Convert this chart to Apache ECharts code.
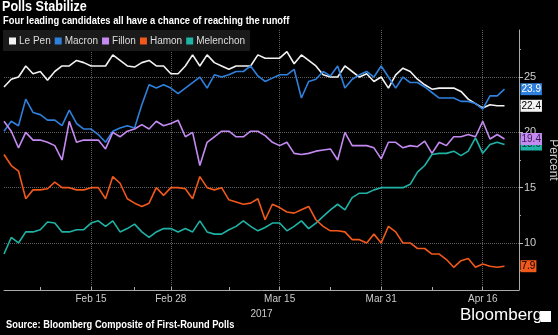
<!DOCTYPE html>
<html>
<head>
<meta charset="utf-8">
<script src="https://cdn.jsdelivr.net/npm/echarts@6/dist/echarts.min.js"></script>
<style>
html,body{margin:0;padding:0;background:#000;}
#chart{width:558px;height:335px;}
</style>
</head>
<body>
<div id="chart"></div>
<script>
// ---- data (70 poll points; 2 empty slots pad the axis end) ----
const nCategories = 72;
const tickLabels = {12:'Feb 15', 23:'Feb 28', 38:'Mar 15', 52:'Mar 31', 66:'Apr 16'};
const minorTicks = [5, 18, 31, 45, 59];
const yLabelValues = [10, 15, 20, 25];
const names = ['Le Pen', 'Macron', 'Fillon', 'Hamon', 'Melenchon'];
const lePen = [24.1,24.8,25.0,26.0,25.3,25.5,24.7,25.5,26.0,26.0,26.5,26.3,26.0,26.0,26.0,27.0,26.5,26.0,25.9,26.3,
  26.5,26.0,26.0,25.3,25.3,26.0,27.0,26.0,27.0,26.3,26.0,25.7,26.0,26.0,26.0,27.0,26.7,26.7,26.7,27.3,
  26.2,27.0,26.5,26.0,25.2,25.0,25.0,26.0,25.5,25.0,25.3,24.6,25.0,24.0,25.2,25.8,25.5,24.8,24.3,23.9,
  24.0,24.0,24.0,23.7,23.0,22.6,22.2,22.5,22.4,22.4];
const macron = [20.1,21.0,20.6,23.0,21.8,21.6,21.1,21.1,20.6,22.0,20.8,20.3,20.3,19.8,19.1,20.1,20.4,20.6,20.4,22.5,
  24.3,24.0,24.3,24.0,23.5,24.0,24.5,25.0,24.0,25.2,25.0,25.2,25.5,25.5,26.0,25.1,24.6,24.9,25.2,25.2,
  25.7,23.1,24.6,24.8,25.5,25.1,26.0,24.0,24.8,25.2,25.5,25.0,26.0,25.0,24.0,25.0,24.5,24.5,24.1,23.6,
  23.1,23.1,23.1,22.8,22.8,22.6,22.1,23.3,23.3,23.9];
const fillon = [21.0,20.1,18.6,20.0,19.3,19.3,19.1,18.8,17.5,21.0,19.1,19.3,19.3,19.3,18.5,20.0,19.6,20.1,20.3,20.7,
  20.3,21.0,20.6,20.8,21.1,19.6,20.0,17.0,19.1,19.6,20.1,20.1,19.6,19.6,20.1,20.1,19.7,19.1,18.8,19.1,
  18.1,18.0,18.1,18.3,18.4,18.5,17.5,20.0,18.8,18.8,18.8,18.6,17.6,19.1,19.1,18.6,18.8,18.7,19.2,18.1,
  19.1,18.8,19.6,19.6,19.8,19.6,21.0,19.4,19.8,19.4];
const hamon = [18.0,17.0,16.5,14.0,14.8,14.8,14.9,15.5,15.0,15.0,14.8,14.8,15.0,15.0,14.0,16.0,15.4,14.0,13.6,13.3,
  13.6,15.0,14.3,15.0,15.0,14.9,14.0,16.0,15.0,14.8,15.0,13.9,13.7,13.5,13.6,14.0,12.1,13.5,13.2,12.8,
  12.7,13.0,13.3,12.1,11.5,11.1,11.1,11.0,10.3,10.3,10.0,10.8,10.0,11.5,11.0,10.0,10.0,9.5,9.5,9.0,
  9.0,8.5,7.8,8.4,8.6,7.8,8.1,7.9,7.8,7.9];
const melenchon = [9.0,10.5,10.0,11.0,11.0,11.2,11.9,11.8,11.0,11.0,11.2,11.2,11.8,12.0,11.5,12.0,11.0,11.3,11.7,11.0,
  10.5,11.0,11.3,11.3,11.0,11.3,11.0,12.0,11.0,10.8,10.8,11.2,11.5,12.0,11.5,11.1,11.4,11.8,11.8,11.1,
  11.5,12.0,11.3,11.8,12.4,13.0,13.5,13.0,14.1,14.5,14.5,14.8,15.0,15.0,15.0,15.0,15.3,16.4,17.0,18.0,
  18.1,18.1,18.3,17.9,18.3,19.5,18.1,18.9,19.1,18.9];

const colors = {'Le Pen':'#f2f2f2', 'Macron':'#2f80dc', 'Fillon':'#c48af2', 'Hamon':'#f0581c', 'Melenchon':'#1fb3a6'};
const labelText = {'Le Pen':'#000', 'Macron':'#fff', 'Fillon':'#3a1a50', 'Hamon':'#000', 'Melenchon':'#003a35'};

const categories = Array.from({length: nCategories}, (_, i) => String(i));
const FONT = "'Liberation Sans Narrow', 'Liberation Sans', Arial, sans-serif";
const GRID_LINE = {type: 'dotted', color: '#5e5e5e', width: 1};

function mk(name, data) {
  return {
    name, type: 'line', data, showSymbol: false, symbol: 'none',
    lineStyle: {width: 1.6, color: colors[name]}, itemStyle: {color: colors[name]},
    animation: false,
    endLabel: {
      show: true, distance: 16,
      formatter: p => Number(p.value).toFixed(1),
      backgroundColor: colors[name], color: labelText[name],
      fontFamily: FONT, fontSize: 10, padding: [1, 1, 0, 1], lineHeight: 11
    }
  };
}

const chart = echarts.init(document.getElementById('chart'), null, {renderer: 'canvas'});
const series = [
  mk('Melenchon', melenchon),
  mk('Hamon', hamon),
  mk('Le Pen', lePen),
  mk('Macron', macron),
  mk('Fillon', fillon)
];
series[0].markLine = {
  silent: true, symbol: ['none', 'none'], animation: false, z: 1,
  label: {show: false},
  emphasis: {disabled: true},
  lineStyle: GRID_LINE,
  data: yLabelValues.map(v => ({yAxis: v}))
};

chart.setOption({
  backgroundColor: '#000',
  animation: false,
  textStyle: {fontFamily: FONT},
  legend: {
    data: names, left: 3, top: 30,
    icon: 'rect', itemWidth: 7, itemHeight: 7, itemGap: 4,
    backgroundColor: '#1a1a1a', padding: [6, 5, 5, 6],
    textStyle: {color: '#ddd', fontSize: 10, fontFamily: FONT, padding: [0, 0, 0, -2]},
    selectedMode: false
  },
  grid: {left: 4, right: 39, top: 30, bottom: 45, containLabel: false, outerBoundsMode: 'none'},
  xAxis: {
    type: 'category', data: categories, boundaryGap: false,
    name: '2017', nameLocation: 'middle', nameGap: 15,
    nameTextStyle: {color: '#ccc', fontSize: 10, fontFamily: FONT},
    axisLine: {lineStyle: {color: '#aaa', width: 1}},
    axisTick: {show: true, inside: true, length: 3, lineStyle: {color: '#aaa'},
      interval: (i) => minorTicks.includes(i) || (i in tickLabels)},
    axisLabel: {color: '#ccc', fontSize: 10, margin: 4, fontFamily: FONT,
      interval: (i) => (i in tickLabels), formatter: (v, i) => tickLabels[i] || ''},
    splitLine: {show: true, interval: (i) => (i in tickLabels), lineStyle: GRID_LINE}
  },
  yAxis: {
    type: 'value', position: 'right', min: 5.75, max: 29.25,
    name: 'Percent', nameLocation: 'middle', nameRotate: -90, nameGap: 25,
    nameTextStyle: {color: '#ccc', fontSize: 12, fontFamily: FONT},
    axisLine: {show: true, lineStyle: {color: '#aaa', width: 1}},
    axisTick: {show: true, length: 4, customValues: yLabelValues, lineStyle: {color: '#bbb'}},
    minorTick: {show: true, splitNumber: 2, length: 2, lineStyle: {color: '#aaa'}},
    axisLabel: {color: '#ccc', fontSize: 11, margin: 5, customValues: yLabelValues, fontFamily: FONT},
    splitLine: {show: false}
  },
  series,
  graphic: [
    {type: 'text', left: 2, top: 0, scaleX: 0.9, originX: 0,
      style: {text: 'Polls Stabilize', fill: '#fff',
        font: "bold 14px 'Liberation Sans', Arial, sans-serif"}},
    {type: 'text', left: 3, top: 15, scaleX: 0.85, originX: 0,
      style: {text: 'Four leading candidates all have a chance of reaching the runoff', fill: '#fff',
        font: "bold 11px 'Liberation Sans', Arial, sans-serif"}},
    {type: 'text', left: 6, top: 320, scaleX: 0.93, originX: 0,
      style: {text: 'Source: Bloomberg Composite of First-Round Polls', fill: '#fff',
        font: "bold 10px 'Liberation Sans', Arial, sans-serif"}},
    {type: 'text', left: 460, top: 307,
      style: {text: 'Bloomberg', fill: '#fff', font: "17px 'Liberation Sans', Arial, sans-serif"}},
    {type: 'rect', left: 541, top: 311, shape: {width: 10, height: 11},
      style: {fill: '#fff'}}
  ]
});
</script>
</body>
</html>
